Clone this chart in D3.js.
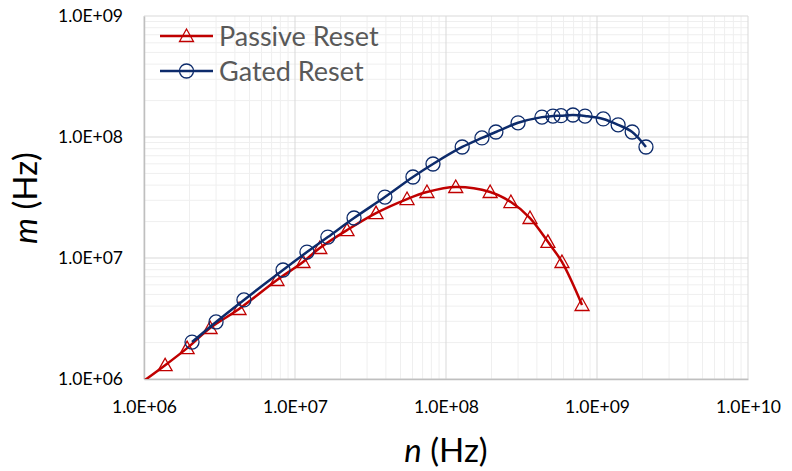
<!DOCTYPE html>
<html>
<head>
<meta charset="utf-8">
<script src="https://cdn.jsdelivr.net/npm/d3@7"></script>
<style>
    html, body { margin: 0; padding: 0; background: #fff; }
    svg { display: block; font-family: Lato, "Open Sans", sans-serif; }
</style>
</head>
<body>
<div id="chart"></div>
<script>
// Passive Reset series (n, m) in Hz; first point lies just outside the plot and gets clipped
const passiveN = [7.2e5, 1.38e6, 1.93e6, 2.74e6, 4.26e6, 7.6e6, 1.13e7, 1.46e7, 2.21e7, 3.44e7, 5.52e7, 7.48e7, 1.16e8, 1.96e8, 2.69e8, 3.6e8, 4.73e8, 5.86e8, 7.96e8];
const passiveM = [7.2e5, 1.30e6, 1.80e6, 2.64e6, 3.79e6, 6.58e6, 9.27e6, 1.21e7, 1.70e7, 2.35e7, 3.07e7, 3.51e7, 3.86e7, 3.51e7, 2.90e7, 2.14e7, 1.36e7, 9.27e6, 4.09e6];

// Gated Reset series
const gatedN = [2.08e6, 3.0e6, 4.59e6, 8.33e6, 1.2e7, 1.65e7, 2.46e7, 3.94e7, 6.04e7, 8.2e7, 1.28e8, 1.73e8, 2.14e8, 3.0e8, 4.32e8, 5.11e8, 5.78e8, 6.93e8, 8.33e8, 1.10e9, 1.38e9, 1.71e9, 2.11e9];
const gatedM = [2.02e6, 2.96e6, 4.5e6, 7.96e6, 1.12e7, 1.49e7, 2.14e7, 3.19e7, 4.67e7, 5.98e7, 8.27e7, 9.82e7, 1.10e8, 1.31e8, 1.46e8, 1.49e8, 1.50e8, 1.52e8, 1.49e8, 1.41e8, 1.26e8, 1.10e8, 8.27e7];

const xTicks = [1e6, 1e7, 1e8, 1e9, 1e10];
const yTicks = [1e6, 1e7, 1e8, 1e9];
const legendLabels = ["Passive Reset", "Gated Reset"];

class LogChart
{
    constructor(el)
    {
        this.width = 792;
        this.height = 471;
        this.frame = { left: 144, right: 748, top: 16, bottom: 379 };
        this.svg = d3.select(el).append("svg")
            .attr("width", this.width)
            .attr("height", this.height);
        this.x = d3.scaleLog().domain([1e6, 1e10]).range([this.frame.left, this.frame.right]);
        this.y = d3.scaleLog().domain([1e6, 1e9]).range([this.frame.bottom, this.frame.top]);
    }

    draw()
    {
        this._drawGrid();
        this._drawAxes();
        this._drawSeries(passiveN, passiveM, "#c00000", "triangle");
        this._drawSeries(gatedN, gatedM, "#0d2b6b", "circle");
        this._drawLegend();
    }

    _minorValues(domain)
    {
        const out = [];
        for (let d = domain[0]; d < domain[1]; d *= 10) {
            for (let k = 2; k <= 9; k++) out.push(d * k);
        }
        return out;
    }

    _drawGrid()
    {
        const f = this.frame;
        const g = this.svg.append("g").classed("grid", true);

        g.selectAll("line.xminor").data(this._minorValues(this.x.domain())).join("line")
            .attr("x1", d => this.x(d)).attr("x2", d => this.x(d))
            .attr("y1", f.top).attr("y2", f.bottom)
            .attr("stroke", "#efefef").attr("stroke-width", 1);
        g.selectAll("line.yminor").data(this._minorValues(this.y.domain())).join("line")
            .attr("y1", d => this.y(d)).attr("y2", d => this.y(d))
            .attr("x1", f.left).attr("x2", f.right)
            .attr("stroke", "#efefef").attr("stroke-width", 1);

        g.selectAll("line.xmajor").data(xTicks).join("line")
            .attr("x1", d => this.x(d)).attr("x2", d => this.x(d))
            .attr("y1", f.top).attr("y2", f.bottom)
            .attr("stroke", "#d9d9d9").attr("stroke-width", 1);
        g.selectAll("line.ymajor").data(yTicks).join("line")
            .attr("y1", d => this.y(d)).attr("y2", d => this.y(d))
            .attr("x1", f.left).attr("x2", f.right)
            .attr("stroke", "#d9d9d9").attr("stroke-width", 1);
    }

    _drawAxes()
    {
        const f = this.frame;
        const fmt = d => "1.0E+" + String(Math.round(Math.log10(d))).padStart(2, "0");

        const xAxis = this.svg.append("g")
            .attr("transform", `translate(0,${f.bottom})`)
            .call(d3.axisBottom(this.x).tickValues(xTicks).tickFormat(fmt).tickSize(0).tickPadding(22));
        const yAxis = this.svg.append("g")
            .attr("transform", `translate(${f.left},0)`)
            .call(d3.axisLeft(this.y).tickValues(yTicks).tickFormat(fmt).tickSize(0).tickPadding(21));

        [xAxis, yAxis].forEach(a => {
            a.select(".domain").attr("stroke", "#bfbfbf").attr("stroke-width", 1.5);
            a.selectAll("text")
                .attr("fill", "#000")
                .style("font-family", "Lato, sans-serif")
                .style("font-size", "17.5px");
        });

        this.svg.append("text")
            .attr("x", 446).attr("y", 462)
            .attr("text-anchor", "middle")
            .style("font-size", "33px")
            .html('<tspan font-style="italic">n</tspan> (Hz)');

        this.svg.append("text")
            .attr("transform", "translate(37,198) rotate(-90)")
            .attr("text-anchor", "middle")
            .style("font-size", "33px")
            .html('<tspan font-style="italic">m</tspan> (Hz)');
    }

    // hollow markers, the line shows through them
    _marker(g, type, color)
    {
        if (type === "circle") {
            g.append("circle").attr("r", 7)
                .attr("fill", "none").attr("stroke", color).attr("stroke-width", 1.3);
        } else {
            g.append("path").attr("d", "M0,-7L7,5.5L-7,5.5Z")
                .attr("fill", "none").attr("stroke", color).attr("stroke-width", 1.3);
        }
    }

    _drawSeries(xs, ys, color, type)
    {
        const f = this.frame;
        if (!this.clipId) {
            this.clipId = "plotclip";
            this.svg.append("clipPath").attr("id", this.clipId)
                .append("rect")
                .attr("x", f.left).attr("y", f.top)
                .attr("width", f.right - f.left).attr("height", f.bottom - f.top);
        }
        const pts = xs.map((d, i) => [this.x(d), this.y(ys[i])]);
        const g = this.svg.append("g").attr("clip-path", `url(#${this.clipId})`);

        g.append("path")
            .attr("d", d3.line().curve(d3.curveCatmullRom.alpha(0.5))(pts))
            .attr("fill", "none")
            .attr("stroke", color)
            .attr("stroke-width", 2.5);

        pts.forEach(p => {
            const m = g.append("g").attr("transform", `translate(${p[0]},${p[1]})`);
            this._marker(m, type, color);
        });
    }

    _drawLegend()
    {
        const items = [
            { label: legendLabels[0], color: "#c00000", type: "triangle", y: 36 },
            { label: legendLabels[1], color: "#0d2b6b", type: "circle", y: 71 }
        ];
        items.forEach(it => {
            const g = this.svg.append("g");
            g.append("line")
                .attr("x1", 160).attr("x2", 213)
                .attr("y1", it.y).attr("y2", it.y)
                .attr("stroke", it.color).attr("stroke-width", 2.5);
            const m = g.append("g").attr("transform", `translate(186.5,${it.y})`);
            this._marker(m, it.type, it.color);
            g.append("text")
                .attr("x", 219).attr("y", it.y + 9.5)
                .attr("fill", "#595959")
                .style("font-size", "27px")
                .text(it.label);
        });
    }
}

new LogChart(document.getElementById("chart")).draw();
</script>
</body>
</html>
